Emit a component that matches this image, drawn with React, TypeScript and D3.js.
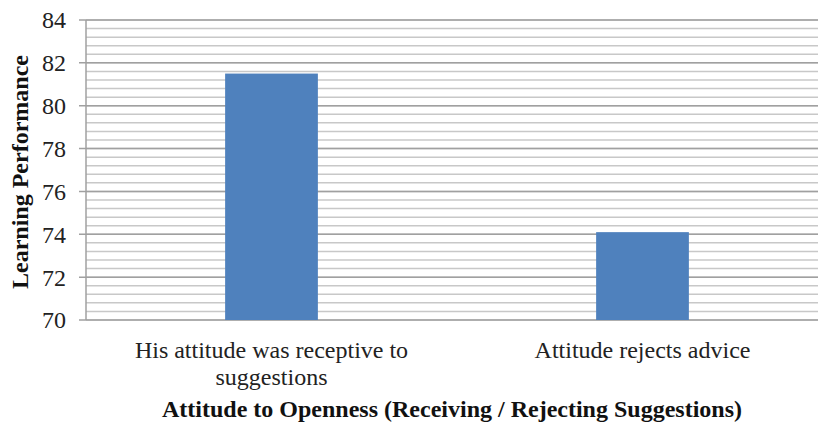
import React from "react";
import * as d3 from "d3";

const categories: string[][] = [
  ["His attitude was receptive to", "suggestions"],
  ["Attitude rejects advice"],
];
const values: number[] = [81.5, 74.1];
const yTicks: number[] = [70, 72, 74, 76, 78, 80, 82, 84];
const yTitle = "Learning Performance";
const xTitle = "Attitude to Openness (Receiving / Rejecting Suggestions)";

export default function App() {
  const W = 818, H = 428;
  const left = 86, right = 828, top = 20, bottom = 320;
  const x = d3.scaleBand<number>().domain(values.map((_, i) => i)).range([left, right]).paddingInner(0.75).paddingOuter(0.375);
  const y = d3.scaleLinear().domain([70, 84]).range([bottom, top]);
  const minor = d3.range(70, 84.001, 0.4).map((v) => +v.toFixed(1));
  const font = "'Liberation Serif', 'Times New Roman', serif";
  return (
    <svg width={W} height={H} style={{ position: "absolute", left: 0, top: 0, background: "#fff" }}>
      {minor.map((v) => (
        <line key={"m" + v} x1={left} x2={W} y1={y(v)} y2={y(v)} stroke="#c8c8c8" strokeWidth={1.5} />
      ))}
      {yTicks.map((v) => (
        <line key={"M" + v} x1={left - 7} x2={W} y1={y(v)} y2={y(v)} stroke="#a0a0a0" strokeWidth={1.5} />
      ))}
      <line x1={left} x2={left} y1={top} y2={bottom} stroke="#a0a0a0" strokeWidth={1.5} />
      {values.map((v, i) => (
        <rect key={i} x={x(i)} width={x.bandwidth()} y={y(v)} height={bottom - y(v)} fill="#4f81bd" />
      ))}
      {yTicks.map((v) => (
        <text key={"t" + v} x={66} y={y(v)} dy="0.35em" textAnchor="end" fontFamily={font} fontSize={24} fill="#222">
          {v}
        </text>
      ))}
      {categories.map((lines, i) => (
        <text key={"c" + i} x={(x(i) as number) + x.bandwidth() / 2} y={358} textAnchor="middle" fontFamily={font} fontSize={24} fill="#222">
          {lines.map((l, j) => (
            <tspan key={j} x={(x(i) as number) + x.bandwidth() / 2} dy={j === 0 ? 0 : 27}>
              {l}
            </tspan>
          ))}
        </text>
      ))}
      <text x={452} y={417} textAnchor="middle" fontFamily={font} fontSize={24} fontWeight="bold" fill="#111">
        {xTitle}
      </text>
      <text transform={`translate(28,${(top + bottom) / 2 + 2}) rotate(-90)`} textAnchor="middle" fontFamily={font} fontSize={24} fontWeight="bold" fill="#111">
        {yTitle}
      </text>
    </svg>
  );
}
